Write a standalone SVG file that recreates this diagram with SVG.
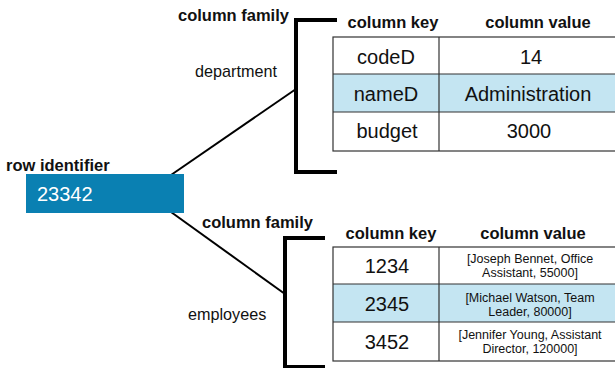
<svg xmlns="http://www.w3.org/2000/svg" width="615" height="368" viewBox="0 0 615 368">
  <style>
    text { font-family: "Liberation Sans", Arial, sans-serif; fill: #111; }
    .hd { font-weight: bold; font-size: 16.5px; }
    .lbl { font-size: 16.2px; }
    .cell { font-size: 20px; text-anchor: middle; }
    .small { font-size: 12.5px; text-anchor: middle; }
    .grid { fill: none; stroke: #333; stroke-width: 1.2; }
    .hl { fill: #c4e5f2; }
    .bracket { fill: none; stroke: #000; stroke-width: 4; }
    .conn { fill: none; stroke: #000; stroke-width: 2; }
  </style>

  <!-- connectors from the row to each column family -->
  <g id="connectors">
    <line class="conn" x1="171" y1="175" x2="296" y2="89"/>
    <line class="conn" x1="171" y1="212" x2="285" y2="294"/>
  </g>

  <!-- row identifier -->
  <g id="row">
    <text class="hd" x="6" y="171">row identifier</text>
    <rect x="26" y="174" width="158" height="39" fill="#0a80b2"/>
    <text x="37" y="201" style="font-size:20px;fill:#fff">23342</text>
  </g>

  <!-- column family: department -->
  <g id="family-department">
    <text class="hd" x="178" y="21">column family</text>
    <text class="lbl" x="195" y="77">department</text>
    <path class="bracket" d="M337 20 H296 V172 H337"/>
    <text class="hd" x="393" y="28" text-anchor="middle">column key</text>
    <text class="hd" x="538" y="28" text-anchor="middle">column value</text>
    <rect class="hl" x="333" y="74" width="290" height="38"/>
    <rect class="grid" x="333" y="37" width="290" height="114"/>
    <line class="grid" x1="439" y1="37" x2="439" y2="151"/>
    <line class="grid" x1="333" y1="74" x2="623" y2="74"/>
    <line class="grid" x1="333" y1="112" x2="623" y2="112"/>
    <text class="cell" x="386" y="64">codeD</text>
    <text class="cell" x="531" y="64">14</text>
    <text class="cell" x="386" y="101">nameD</text>
    <text class="cell" x="528" y="101">Administration</text>
    <text class="cell" x="387" y="138">budget</text>
    <text class="cell" x="529" y="138">3000</text>
  </g>

  <!-- column family: employees -->
  <g id="family-employees">
    <text class="hd" x="202" y="228">column family</text>
    <text class="lbl" x="188" y="320">employees</text>
    <path class="bracket" d="M325 238 H285 V367 H325"/>
    <text class="hd" x="391" y="239" text-anchor="middle">column key</text>
    <text class="hd" x="533" y="239" text-anchor="middle">column value</text>
    <rect class="hl" x="333" y="284" width="290" height="38"/>
    <rect class="grid" x="333" y="247" width="290" height="114"/>
    <line class="grid" x1="439" y1="247" x2="439" y2="361"/>
    <line class="grid" x1="333" y1="284" x2="623" y2="284"/>
    <line class="grid" x1="333" y1="322" x2="623" y2="322"/>
    <text class="cell" x="387" y="273">1234</text>
    <text class="cell" x="387" y="311">2345</text>
    <text class="cell" x="387" y="349">3452</text>
    <text class="small" x="530" y="263">[Joseph Bennet, Office</text>
    <text class="small" x="530" y="277">Assistant, 55000]</text>
    <text class="small" x="530" y="302">[Michael Watson, Team</text>
    <text class="small" x="530" y="316">Leader, 80000]</text>
    <text class="small" x="530" y="339">[Jennifer Young, Assistant</text>
    <text class="small" x="530" y="353">Director, 120000]</text>
  </g>
</svg>
